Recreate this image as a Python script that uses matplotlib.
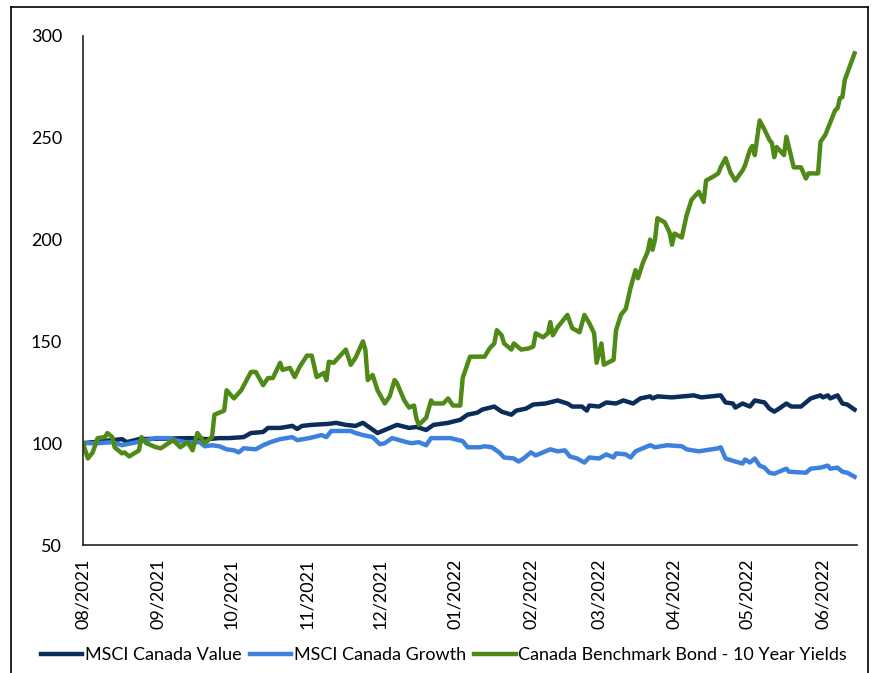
import matplotlib
matplotlib.use("Agg")
import matplotlib.pyplot as plt
import matplotlib.dates as mdates
from matplotlib.lines import Line2D
import pandas as pd

# ---------------- data ----------------
value_dates = ["2021-08-01","2021-08-13","2021-08-17","2021-08-19","2021-08-24","2021-09-14","2021-09-21",
               "2021-09-26","2021-09-30","2021-10-06","2021-10-09","2021-10-14","2021-10-16","2021-10-21",
               "2021-10-26","2021-10-28","2021-10-30","2021-11-03","2021-11-10","2021-11-13","2021-11-17",
               "2021-11-21","2021-11-24","2021-11-27","2021-11-30","2021-12-02","2021-12-06","2021-12-08",
               "2021-12-13","2021-12-16","2021-12-20","2021-12-23","2021-12-29","2022-01-03","2022-01-06",
               "2022-01-10","2022-01-12","2022-01-17","2022-01-20","2022-01-24","2022-01-26","2022-01-30",
               "2022-02-02","2022-02-07","2022-02-12","2022-02-16","2022-02-18","2022-02-22","2022-02-24",
               "2022-02-25","2022-03-01","2022-03-04","2022-03-08","2022-03-11","2022-03-15","2022-03-18",
               "2022-03-22","2022-03-23","2022-03-25","2022-03-31","2022-04-09","2022-04-12","2022-04-20",
               "2022-04-22","2022-04-25","2022-04-26","2022-04-29","2022-05-02","2022-05-04","2022-05-08",
               "2022-05-10","2022-05-12","2022-05-14","2022-05-17","2022-05-19","2022-05-23","2022-05-27",
               "2022-05-31","2022-06-01","2022-06-03","2022-06-04","2022-06-07","2022-06-09","2022-06-11",
               "2022-06-14"]
value_vals = [100,101.5,102,100.5,102,102.5,102,
              102.5,102.5,103,105,105.5,107.5,107.5,
              108.5,107,108.5,109,109.5,110,109,
              108.5,110,107.5,105,106,108,109,
              107.5,108,106.5,109,110,111.5,114,
              115,116.5,118,115.5,114,116,117,
              119,119.5,121,119.5,118,118,116,
              118.5,118,120,119.5,121,119.5,122,
              123,122,123,122.5,123.5,122.5,123.5,
              120,119.5,117.5,119.5,118,121,120,
              117,115.5,117,119.5,118,118,122,
              123.5,122.5,123.5,122,123.5,119.5,119,
              116.5]

growth_dates = ["2021-08-01","2021-08-07","2021-08-13","2021-08-17","2021-08-21","2021-08-31","2021-09-06",
                "2021-09-08","2021-09-12","2021-09-18","2021-09-20","2021-09-23","2021-09-26","2021-09-29",
                "2021-10-02","2021-10-04","2021-10-06","2021-10-11","2021-10-14","2021-10-17","2021-10-21",
                "2021-10-26","2021-10-28","2021-11-02","2021-11-07","2021-11-09","2021-11-11","2021-11-19",
                "2021-11-21","2021-11-24","2021-11-28","2021-12-01","2021-12-03","2021-12-06","2021-12-12",
                "2021-12-14","2021-12-17","2021-12-20","2021-12-22","2021-12-30","2022-01-04","2022-01-06",
                "2022-01-11","2022-01-13","2022-01-16","2022-01-19","2022-01-21","2022-01-25","2022-01-27",
                "2022-01-29","2022-02-01","2022-02-03","2022-02-05","2022-02-09","2022-02-12","2022-02-15",
                "2022-02-17","2022-02-20","2022-02-23","2022-02-25","2022-03-01","2022-03-04","2022-03-07",
                "2022-03-08","2022-03-12","2022-03-14","2022-03-16","2022-03-22","2022-03-24","2022-03-29",
                "2022-04-04","2022-04-06","2022-04-11","2022-04-19","2022-04-20","2022-04-22","2022-04-26",
                "2022-04-29","2022-04-30","2022-05-02","2022-05-04","2022-05-06","2022-05-08","2022-05-10",
                "2022-05-12","2022-05-14","2022-05-17","2022-05-18","2022-05-25","2022-05-27","2022-05-31",
                "2022-06-03","2022-06-04","2022-06-07","2022-06-09","2022-06-11","2022-06-14"]
growth_vals = [100,100,100.5,99,100,102.5,102.5,
               101.5,100.5,100.5,98.5,99,98.5,97,
               96.5,95.5,97.5,97,99,100.5,102,
               103,101.5,102.5,104,103,106,106,
               105,104,103,99.5,100,102.5,100.5,
               100,100.5,99,102.5,102.5,101,98,
               98,98.5,98,95.5,93,92.5,91,
               92.5,95.5,94,95,97,96,96.5,
               93.5,92.5,90.5,93,92.5,94.5,93,
               95,94.5,93,96,99,98,99,
               98.5,97,96,97.5,98,92.5,91,
               90,92,90.5,92.5,89,88,85.5,
               85,86,87.5,86,85.5,87.5,88,
               89,87.5,88,86,85.5,83.5]

bond_dates = ["2021-08-01","2021-08-03","2021-08-05","2021-08-07","2021-08-10","2021-08-11","2021-08-13",
              "2021-08-14","2021-08-17","2021-08-18","2021-08-20","2021-08-22","2021-08-24","2021-08-25",
              "2021-08-27","2021-08-31","2021-09-02","2021-09-07","2021-09-10","2021-09-13","2021-09-15",
              "2021-09-17","2021-09-20","2021-09-23","2021-09-24","2021-09-28","2021-09-29","2021-10-02",
              "2021-10-05","2021-10-09","2021-10-11","2021-10-14","2021-10-16","2021-10-18","2021-10-21",
              "2021-10-22","2021-10-25","2021-10-27","2021-10-29","2021-11-01","2021-11-03","2021-11-05",
              "2021-11-08","2021-11-09","2021-11-10","2021-11-12","2021-11-17","2021-11-19","2021-11-21",
              "2021-11-24","2021-11-25","2021-11-26","2021-11-28","2021-11-30","2021-12-03","2021-12-05",
              "2021-12-07","2021-12-08","2021-12-11","2021-12-13","2021-12-15","2021-12-16","2021-12-17",
              "2021-12-20","2021-12-22","2021-12-23","2021-12-27","2021-12-29","2021-12-31","2022-01-03",
              "2022-01-04","2022-01-07","2022-01-13","2022-01-15","2022-01-17","2022-01-18","2022-01-20",
              "2022-01-21","2022-01-24","2022-01-25","2022-01-28","2022-01-31","2022-02-02","2022-02-03",
              "2022-02-06","2022-02-08","2022-02-09","2022-02-10","2022-02-12","2022-02-16","2022-02-18",
              "2022-02-21","2022-02-23","2022-02-25","2022-02-27","2022-02-28","2022-03-02","2022-03-03",
              "2022-03-07","2022-03-08","2022-03-10","2022-03-12","2022-03-14","2022-03-16","2022-03-17",
              "2022-03-19","2022-03-21","2022-03-22","2022-03-23","2022-03-24","2022-03-25","2022-03-28",
              "2022-03-30","2022-03-31","2022-04-01","2022-04-04","2022-04-06","2022-04-08","2022-04-11",
              "2022-04-13","2022-04-14","2022-04-17","2022-04-19","2022-04-20","2022-04-22","2022-04-24",
              "2022-04-26","2022-04-29","2022-04-30","2022-05-02","2022-05-03","2022-05-04","2022-05-06",
              "2022-05-08","2022-05-10","2022-05-11","2022-05-12","2022-05-13","2022-05-16","2022-05-17",
              "2022-05-18","2022-05-20","2022-05-23","2022-05-25","2022-05-26","2022-05-30","2022-05-31",
              "2022-06-02","2022-06-06","2022-06-07","2022-06-08","2022-06-09","2022-06-10","2022-06-14"]
bond_vals = [100,92.5,95.5,102.5,103,105,103,
             98,95,95.5,93.5,95,96.5,103,
             100,98,97.5,101.5,98,100.5,96.5,
             105,100,103,114,116,126,122,
             126,135,135,128.5,132,132,139.5,
             136,137,132.5,137.5,143,143,132.5,
             134.5,131,140,139.5,146,138.5,142,
             150,146,131,133.5,126,119.5,123,
             131,129.5,121,117.5,118.5,112,109,
             112.5,121,119.5,119.5,122,118.5,118.5,
             132,142.5,142.5,146.5,149,155.5,153,
             149,146,149,146,146.5,147.5,154,
             152,154,159.5,153,157,163,156.5,
             154.5,163,159,154,139.5,149,138.5,
             141,155.5,163,166,176.5,185,181,
             188.5,194,200,195,200,210.5,208.5,
             203.5,197.5,203,201,212,219.5,223.5,
             218.5,229,231,232.5,235.5,240,233,
             229,234,236.5,244,246,241.5,258.5,
             254,249,247.5,240.5,245.5,241.5,250.5,
             245.5,235.5,235.5,230,232.5,232.5,248,
             251.5,263.5,264.5,269.5,270,278.5,291.5]

series_names = ["MSCI Canada Value", "MSCI Canada Growth", "Canada Benchmark Bond - 10 Year Yields"]
series_colors = ["#0B2D5B", "#3D80DE", "#4F8A16"]
month_ticks = pd.date_range("2021-08-01", "2022-06-01", freq="MS")
y_ticks = [50, 100, 150, 200, 250, 300]

# ---------------- plot ----------------
plt.rcParams['font.family'] = ['Lato', 'DejaVu Sans']
fig = plt.figure(figsize=(8.73, 6.73), dpi=100)
ax = fig.add_axes([83/873, 1-545/673, (857-83)/873, (545-36)/673])

for d, v, name, c in zip([value_dates, growth_dates, bond_dates],
                         [value_vals, growth_vals, bond_vals],
                         series_names, series_colors):
    ax.plot(pd.to_datetime(d), v, color=c, lw=3.2, label=name, solid_joinstyle='round')

ax.set_ylim(50, 300)
ax.set_yticks(y_ticks)
ax.set_xlim(pd.Timestamp("2021-08-01"), pd.Timestamp("2022-06-15"))
ax.set_xticks(month_ticks)
ax.xaxis.set_major_formatter(mdates.DateFormatter("%m/%Y"))
ax.tick_params(axis='both', length=0, labelsize=13, colors='black')
ax.tick_params(axis='x', rotation=90, pad=10)
ax.tick_params(axis='y', pad=15)
for s in ['top', 'right']:
    ax.spines[s].set_visible(False)
for s in ['left', 'bottom']:
    ax.spines[s].set_color('#222222')
    ax.spines[s].set_linewidth(1.2)

handles = [Line2D([0], [0], color=c, lw=3.2) for c in series_colors]
fig.legend(handles, series_names, loc='center', bbox_to_anchor=(444/873, 1-655/673), ncol=3,
           frameon=False, fontsize=13, handlelength=2.3, handletextpad=0.15, columnspacing=0.45)

# figure border
for xs, ys in [([11/873, 11/873], [0, 1-7/673]), ([11/873, 868/873], [1-7/673, 1-7/673]),
               ([868/873, 868/873], [1-7/673, 0])]:
    fig.add_artist(Line2D(xs, ys, color='black', lw=1.2, transform=fig.transFigure))

fig.savefig("out.png", dpi=100)
